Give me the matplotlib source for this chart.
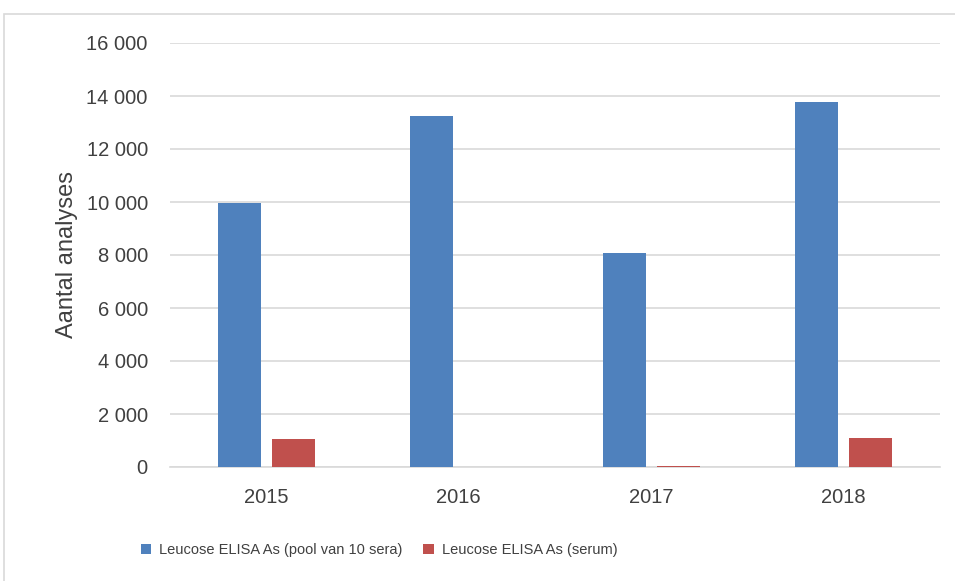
import numpy as np
import matplotlib
matplotlib.use("Agg")
import matplotlib.pyplot as plt
from matplotlib.patches import Rectangle

jaren = ["2015", "2016", "2017", "2018"]
pool = [9950, 13260, 8070, 13770]
serum = [1050, 0, 30, 1090]
labels = ["Leucose ELISA As (pool van 10 sera)", "Leucose ELISA As (serum)"]
kleuren = ["#4F81BD", "#C0504D"]

plt.rcParams['font.family'] = ['Liberation Sans', 'DejaVu Sans']

fig = plt.figure(figsize=(9.55, 5.81), dpi=100)
ax = fig.add_axes([170/955, 1-467/581, 770/955, 424/581])

# grijze rand rond de grafiek
fig.patches.append(Rectangle((4/955, -0.01), 1.0, 1-14/581+0.01, transform=fig.transFigure,
                             fill=False, edgecolor="#D9D9D9", linewidth=1.2))

x = np.arange(len(jaren))
w = 0.223
gap = 0.057
ax.bar(x - (w+gap)/2, pool, w, color=kleuren[0], label=labels[0], zorder=3)
ax.bar(x + (w+gap)/2, serum, w, color=kleuren[1], label=labels[1], zorder=3)

ax.set_xlim(-0.5, 3.5)
ax.set_ylim(0, 16000)
ax.set_yticks(np.arange(0, 16001, 2000))
ax.set_yticklabels([f"{v:,}".replace(",", " ") for v in range(0, 16001, 2000)])
ax.set_xticks(x)
ax.set_xticklabels(jaren)
ax.grid(axis="y", color="#D9D9D9", linewidth=1.2, zorder=0)
for s in ["top", "right", "left"]:
    ax.spines[s].set_visible(False)
ax.spines["bottom"].set_color("#D9D9D9")
ax.spines["bottom"].set_linewidth(1.2)
ax.tick_params(axis="both", length=0, labelsize=14.5, colors="#404040")
ax.tick_params(axis="x", pad=15)
ax.tick_params(axis="y", pad=16)
ax.set_ylabel("Aantal analyses", fontsize=17, color="#404040", labelpad=6)

fig.legend(loc="center", bbox_to_anchor=(379/955, 1-550/581), ncol=2, frameon=False,
           fontsize=10.5, handlelength=0.72, handleheight=0.72, handletextpad=0.55,
           columnspacing=1.4, labelcolor="#404040")

fig.savefig("out.png", dpi=100)
